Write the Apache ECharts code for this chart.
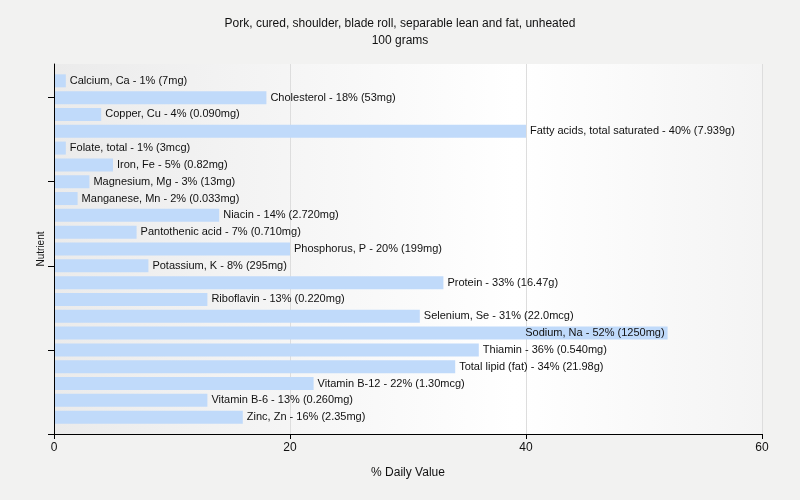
<!DOCTYPE html>
<html>
<head>
<meta charset="utf-8">
<script src="https://cdn.jsdelivr.net/npm/echarts@6/dist/echarts.min.js"></script>
<style>html,body{margin:0;padding:0;background:#f2f2f1;}#c{width:800px;height:500px;}</style>
</head>
<body>
<div id="c"></div>
<script>
const nutrients = ["Calcium, Ca","Cholesterol","Copper, Cu","Fatty acids, total saturated","Folate, total","Iron, Fe","Magnesium, Mg","Manganese, Mn","Niacin","Pantothenic acid","Phosphorus, P","Potassium, K","Protein","Riboflavin","Selenium, Se","Sodium, Na","Thiamin","Total lipid (fat)","Vitamin B-12","Vitamin B-6","Zinc, Zn"];
const dailyValues = [1,18,4,40,1,5,3,2,14,7,20,8,33,13,31,52,36,34,22,13,16];
const amounts = ["7mg","53mg","0.090mg","7.939g","3mcg","0.82mg","13mg","0.033mg","2.720mg","0.710mg","199mg","295mg","16.47g","0.220mg","22.0mcg","1250mg","0.540mg","21.98g","1.30mcg","0.260mg","2.35mg"];
const xTicks = [0,20,40,60];

const cats = [""].concat(nutrients, [""]);
const data = ["-"].concat(dailyValues.map((v,i)=>{
  const item = {value: v, amount: amounts[i], name: nutrients[i]};
  if (v > 45) item.label = {position: 'insideRight', distance: 3};
  return item;
}), ["-"]);

const chart = echarts.init(document.getElementById('c'), null, {renderer:'canvas'});
const FONT = 'Liberation Sans, DejaVu Sans, sans-serif';
chart.setOption({
  backgroundColor: '#f2f2f1',
  animation: false,
  title: {
    text: 'Pork, cured, shoulder, blade roll, separable lean and fat, unheated\n100 grams',
    left: 'center', top: 10,
    textStyle: {fontSize: 12, fontWeight: 'normal', color: '#111', fontFamily: FONT, lineHeight: 17}
  },
  grid: {
    left: 54, right: 38, top: 64, bottom: 66, show: true, borderWidth: 0,
    backgroundColor: new echarts.graphic.LinearGradient(0,0,1,0,[
      {offset:0,color:'#ebebeb'},{offset:0.65,color:'#ffffff'},{offset:1,color:'#f4f4f4'}])
  },
  xAxis: {
    type: 'value', min: xTicks[0], max: xTicks[xTicks.length-1], interval: 20,
    name: '% Daily Value', nameLocation: 'middle', nameGap: 33,
    nameTextStyle: {fontSize: 12, color: '#111', fontFamily: FONT},
    axisLine: {show: true, lineStyle: {color: '#000', width: 1}},
    axisTick: {show: true, length: 5, lineStyle: {color: '#000'}},
    axisLabel: {fontSize: 12, color: '#111', fontFamily: FONT, margin: 8},
    splitLine: {show: true, lineStyle: {color: '#dddddd', width: 1}}
  },
  yAxis: {
    type: 'category', inverse: true, data: cats, boundaryGap: false, z: 5,
    name: 'Nutrient', nameLocation: 'middle', nameGap: 8, nameRotate: 90,
    nameTextStyle: {fontSize: 10, color: '#111', fontFamily: FONT},
    axisLine: {show: true, lineStyle: {color: '#000', width: 1}},
    axisTick: {show: true, length: 6, interval: (i)=> i % 5 === 2, lineStyle: {color: '#000'}},
    axisLabel: {show: false},
    splitLine: {show: false}
  },
  series: [{
    type: 'bar', data: data, barWidth: 13,
    itemStyle: {color: '#c0dafa'},
    label: {
      show: true, position: 'right', distance: 4,
      fontSize: 11, color: '#111', fontFamily: FONT,
      formatter: (p)=> p.data.name + ' - ' + p.data.value + '% (' + p.data.amount + ')'
    }
  }]
});
</script>
</body>
</html>
